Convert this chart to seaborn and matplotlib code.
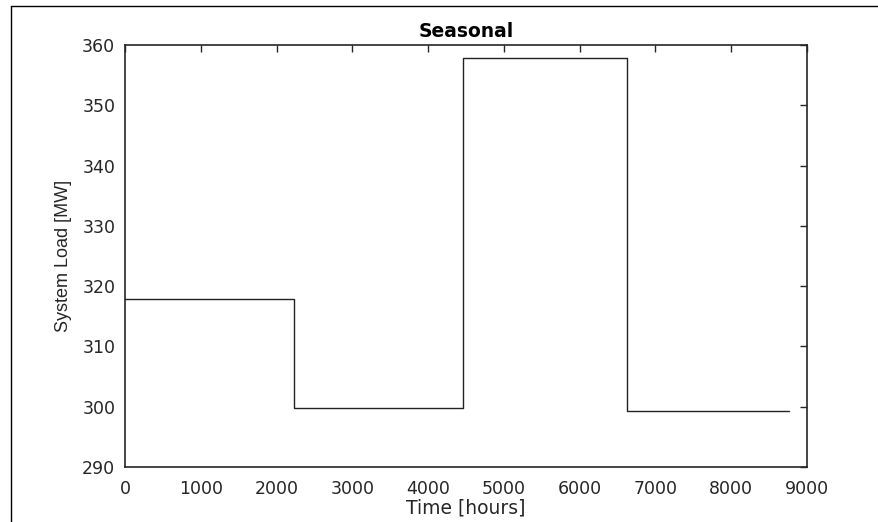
import matplotlib
matplotlib.use("Agg")
import matplotlib.pyplot as plt
from matplotlib.lines import Line2D
import seaborn as sns
import pandas as pd

# Data (step profile)
hours = [0, 2230, 4460, 6620, 8760]
load_mw = [317.8, 299.85, 357.8, 299.3, 299.3]
x_ticks = [0, 1000, 2000, 3000, 4000, 5000, 6000, 7000, 8000, 9000]
y_ticks = [290, 300, 310, 320, 330, 340, 350, 360]

sns.set_theme(style="white")
plt.rcParams['font.family'] = ['DejaVu Sans']

df = pd.DataFrame({"hours": hours, "load": load_mw})

fig = plt.figure(figsize=(8.79, 5.22), dpi=100)
ax = fig.add_axes([125/879, 1-467/522, (807-125)/879, (467-45)/522])

sns.lineplot(data=df, x="hours", y="load", ax=ax, drawstyle="steps-post",
             estimator=None, color="#222222", linewidth=1.0)

ax.set_xlim(0, 9000)
ax.set_ylim(290, 360)
ax.set_xticks(x_ticks)
ax.set_yticks(y_ticks)
ax.tick_params(direction="in", length=5, width=1, top=True, right=True,
               labelsize=12.5, colors="#262626", pad=7)
ax.tick_params(axis="x", pad=9)
for s in ax.spines.values():
    s.set_color("#262626")
    s.set_linewidth(1.2)
ax.set_xlabel("Time [hours]", fontsize=13.5, color="#262626", labelpad=0.5)
ax.set_ylabel("System Load [MW]", fontsize=13, color="#262626", labelpad=7.5,
              family=["Liberation Sans", "DejaVu Sans"])
ax.set_title("Seasonal", fontsize=13.5, fontweight="bold", color="black", pad=6)

# outer frame lines (top and left)
fig.add_artist(Line2D([11/879, 1], [1-6/522, 1-6/522], color="black", linewidth=1.0))
fig.add_artist(Line2D([11/879, 11/879], [0, 1-6/522], color="black", linewidth=1.0))

fig.savefig("out.png", dpi=100)
